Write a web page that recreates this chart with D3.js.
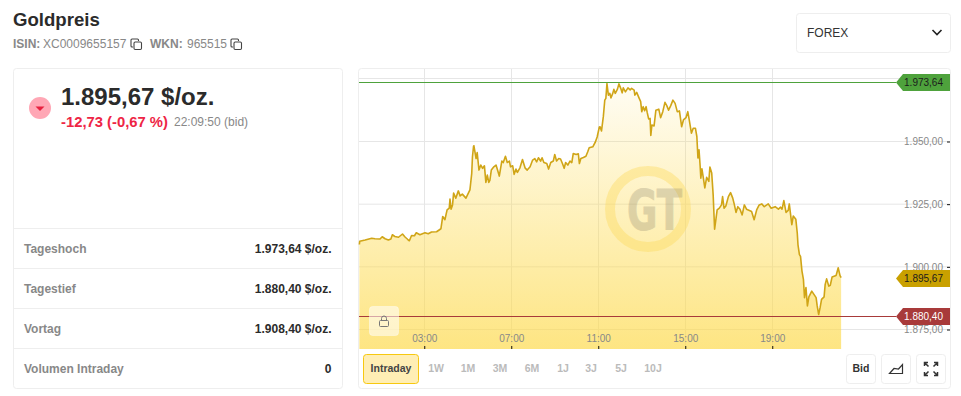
<!DOCTYPE html>
<html>
<head>
<meta charset='utf-8' />
<title>Goldpreis</title>
<script src="https://cdnjs.cloudflare.com/ajax/libs/d3/7.8.5/d3.min.js"></script>
<style>
body { margin:0; padding:0; background:#fff; }
svg { display:block; }
text { font-family:'Liberation Sans', Arial, sans-serif; }
</style>
</head>
<body>
<svg id="page" width="961" height="396"></svg>
<script>
// minutes since midnight
var minutes = [1,2,17,35,44,58,64,72,81,88,92,99,109,120,127,134,139,145,153,158,168,182,191,200,214,226,231,237,243,249,251,254,258,261,267,274,279,285,295,306,311,313,316,
  317,323,326,331,336,341,346,350,354,358,361,365,372,378,383,387,394,398,404,409,415,418,424,428,433,437,444,451,458,464,472,479,485,490,495,501,505,510,518,523,529,536,540,545,551,556,562,566,570,576,582,587,591,599,605,608,612,619,626,631,635,645,652,657,663,
  665,669,674,678,681,684,688,692,695,700,703,707,713,717,722,726,729,735,742,748,752,759,761,766,773,777,780,784,788,792,795,799,803,805,808,814,819,827,832,838,844,849,854,860,866,872,878,884,890,895,902,907,911,917,922,928,932,935,938,941,943,946,950,954,959,965,968,973,
  977,981,985,988,994,1000,1003,1007,1012,1019,1025,1031,1035,1040,1045,1051,1057,1063,1069,1077,1083,1090,1097,1104,1111,1118,1129,1137,1148,1157,1163,1167,1172,1178,1184,1187,1194,1198,1205,1209,1211,1215,1218,1222,1226,1229,1233,1237,1241,1249,1255,1261,1264,1268,1272,1276,1283,1286,1290,1296,1300,1305,1316,1322,1327,1330];
var prices = [1908.9,1910.2,1910.7,1911.4,1911.2,1911.1,1912.0,1911.2,1910.7,1911.1,1912.8,1912.1,1911.8,1913.1,1911.9,1911.0,1910.4,1912.5,1912.4,1913.6,1912.8,1913.6,1913.2,1913.9,1914.0,1915.2,1920.1,1918.8,1922.7,1923.4,1927.0,1923.0,1924.7,1929.4,1927.4,1930.3,1928.3,1929.0,1927.4,1930.7,1937.3,1943.9,1948.1,
  1948.3,1943.2,1945.6,1938.6,1940.6,1939.3,1940.3,1933.7,1936.6,1933.7,1934.5,1938.6,1939.9,1940.6,1938.2,1936.2,1942.2,1941.6,1944.1,1941.6,1942.2,1939.9,1940.3,1936.9,1939.0,1937.7,1939.5,1942.8,1939.5,1938.6,1939.9,1942.6,1943.2,1941.9,1943.5,1942.2,1943.5,1941.6,1941.2,1939.0,1941.6,1942.2,1944.8,1942.2,1943.2,1943.0,1940.9,1939.3,1941.6,1940.6,1942.2,1941.6,1945.2,1944.8,1945.1,1941.2,1943.2,1943.6,1944.1,1945.9,1947.5,1947.9,1949.8,1951.8,1955.8,
  1955.9,1954.2,1959.9,1966.5,1967.2,1973.1,1968.5,1969.2,1967.4,1969.2,1970.8,1969.2,1970.9,1973.0,1971.2,1969.4,1971.4,1969.8,1971.4,1970.6,1971.2,1970.5,1968.5,1969.6,1967.2,1965.9,1961.9,1963.9,1962.3,1963.9,1961.6,1959.0,1959.2,1952.4,1956.6,1956.2,1962.5,1962.9,1959.5,1961.9,1965.6,1964.3,1962.5,1964.3,1966.5,1965.2,1961.9,1962.2,1955.9,1958.6,1959.5,1961.9,1958.6,1953.3,1955.3,1955.3,1952.0,1943.4,1946.7,1940.4,1935.4,1939.1,1935.4,1931.5,1935.7,1934.1,1939.8,1937.4,
  1928.7,1915.0,1919.4,1922.7,1923.4,1924.7,1928.0,1923.4,1924.3,1928.0,1929.6,1927.4,1925.1,1921.7,1924.0,1923.0,1920.7,1924.7,1923.0,1922.5,1922.1,1918.8,1922.7,1924.7,1925.1,1924.0,1925.1,1923.4,1924.0,1923.0,1923.8,1923.0,1926.4,1921.7,1922.5,1925.1,1916.8,1920.3,1919.0,1913.5,1908.8,1904.9,1904.2,1898.3,1895.0,1887.7,1891.7,1884.4,1888.0,1890.3,1889.0,1887.7,1884.4,1881.0,1883.7,1887.0,1888.0,1893.0,1895.2,1892.3,1892.6,1895.9,1896.5,1899.6,1896.5,1895.67];

var priceTicks = [1875, 1900, 1925, 1950];
var timeTicks = [180, 420, 660, 900, 1140];
var timeLabels = ['03:00', '07:00', '11:00', '15:00', '19:00'];
var dayHigh = 1973.64, dayLow = 1880.40, lastPrice = 1895.67;
var statLabels = ['Tageshoch', 'Tagestief', 'Vortag', 'Volumen Intraday'];
var statValues = ['1.973,64 $/oz.', '1.880,40 $/oz.', '1.908,40 $/oz.', '0'];
var rangeLabels = ['1W', '1M', '3M', '6M', '1J', '3J', '5J', '10J'];
var rangeCentres = [436, 468, 500, 532, 563, 591, 621, 653];

var de = d3.formatLocale({decimal: ',', thousands: '.', grouping: [3], currency: ['', '']});
var fmt = de.format(',.2f');

var svg = d3.select('#page');
var defs = svg.append('defs');

var plotL = 359, plotR = 950, plotT = 69, plotB = 349;

function label(g, x, y, txt, size, weight, color, anchor) {
  return g.append('text').attr('x', x).attr('y', y).attr('font-size', size)
    .attr('font-weight', weight).attr('fill', color).attr('text-anchor', anchor || 'start').text(txt);
}
function box(x, y, w, h, stroke, fill) {
  return svg.append('rect').attr('x', x).attr('y', y).attr('width', w).attr('height', h)
    .attr('rx', 3).attr('fill', fill || '#fff').attr('stroke', stroke || '#eeeeee');
}
function copyIcon(x, y) {
  var g = svg.append('g').attr('transform', 'translate(' + x + ',' + y + ')')
    .attr('fill', 'none').attr('stroke', '#444').attr('stroke-width', 1.1);
  g.append('path').attr('d', 'M2.5 8.5H1.5a1 1 0 0 1-1-1V1.5a1 1 0 0 1 1-1H7a1 1 0 0 1 1 1V2.5');
  g.append('rect').attr('x', 3.5).attr('y', 3.5).attr('width', 7.5).attr('height', 7.5).attr('rx', 1.2);
}

// header
label(svg, 13, 26, 'Goldpreis', 18.6, 'bold', '#2b2b2b');
label(svg, 13, 48, 'ISIN:', 12, 'bold', '#888');
label(svg, 43, 48, 'XC0009655157', 12, 'normal', '#888');
copyIcon(130.5, 38.5);
label(svg, 150, 48, 'WKN:', 12, 'bold', '#888');
label(svg, 187, 48, '965515', 12, 'normal', '#888');
copyIcon(230.5, 38.5);

box(796.5, 13.5, 154, 39);
label(svg, 807, 37, 'FOREX', 12, 'normal', '#333');
svg.append('path').attr('d', 'M932.5 30l4.5 4.5 4.5-4.5').attr('fill', 'none').attr('stroke', '#222').attr('stroke-width', 1.6);

// left card
box(13.5, 68.5, 329, 320);
svg.append('circle').attr('cx', 40).attr('cy', 108).attr('r', 11).attr('fill', '#ffa7b5');
svg.append('path').attr('d', 'M35.5 106.5h9l-4.5 4.5z').attr('fill', '#e8203f');
label(svg, 61, 105, '1.895,67 $/oz.', 24, 'bold', '#2b2b2b');
label(svg, 61, 127, '-12,73 (-0,67 %)', 14.8, 'bold', '#ee2545');
label(svg, 174, 126, '22:09:50 (bid)', 12, 'normal', '#888');

var rowY = d3.scaleBand().domain(statLabels).range([228.5, 388.5]);
statLabels.forEach(function(d, i) {
  var y = rowY(d);
  svg.append('line').attr('x1', 14).attr('x2', 342).attr('y1', y).attr('y2', y).attr('stroke', '#eeeeee');
  label(svg, 24, y + 24.5, d, 12, 'bold', '#888');
  label(svg, 331.5, y + 24.5, statValues[i], 12, 'bold', '#2b2b2b', 'end');
});

// chart card
box(358.5, 68.5, 592, 320);

var x = d3.scaleLinear().domain([0, (plotR - plotL) / 0.3625]).range([plotL, plotR]);
var y = d3.scaleLinear().domain([1875, 1950]).range([329.5, 141.5]);

var grad = defs.append('linearGradient').attr('id', 'goldFill').attr('gradientUnits', 'userSpaceOnUse')
  .attr('x1', 0).attr('x2', 0).attr('y1', y(dayHigh)).attr('y2', plotB);
grad.append('stop').attr('offset', 0).attr('stop-color', '#fdda4d').attr('stop-opacity', 0.06);
grad.append('stop').attr('offset', 1).attr('stop-color', '#fdda4d').attr('stop-opacity', 0.7);

// grid
svg.append('g').selectAll('line').data(priceTicks).join('line')
  .attr('x1', plotL).attr('x2', plotR).attr('y1', function(d) { return y(d); }).attr('y2', function(d) { return y(d); })
  .attr('stroke', '#e6e6e6');
svg.append('line').attr('x1', plotL).attr('x2', plotR).attr('y1', 78.5).attr('y2', 78.5).attr('stroke', '#e6e6e6');
svg.append('g').selectAll('line').data(timeTicks).join('line')
  .attr('x1', function(d) { return Math.round(x(d)) + 0.5; }).attr('x2', function(d) { return Math.round(x(d)) + 0.5; })
  .attr('y1', plotT).attr('y2', plotB).attr('stroke', '#e6e6e6');

var series = minutes.map(function(m, i) { return [m, prices[i]]; });

var area = d3.area().x(function(d) { return x(d[0]); }).y0(plotB).y1(function(d) { return y(d[1]); });
svg.append('path').datum(series).attr('d', area).attr('fill', 'url(#goldFill)');

// watermark
var mark = svg.append('g');
mark.append('circle').attr('cx', 648).attr('cy', 209).attr('r', 38).attr('fill', 'none')
  .attr('stroke', '#fdd95a').attr('stroke-opacity', 0.4).attr('stroke-width', 10);
mark.append('text').attr('x', 627).attr('y', 229).attr('font-size', 56).attr('font-weight', 'bold')
  .style('font-family', "'DejaVu Sans'").attr('textLength', 55).attr('lengthAdjust', 'spacingAndGlyphs')
  .attr('fill', '#7d7560').attr('stroke', '#7d7560').attr('stroke-width', 1).attr('opacity', 0.25).text('GT');

var line = d3.line().x(function(d) { return x(d[0]); }).y(function(d) { return y(d[1]); });
svg.append('path').datum(series).attr('d', line).attr('fill', 'none')
  .attr('stroke', '#d0a517').attr('stroke-width', 1.6).attr('stroke-linejoin', 'round');

// axes
var yAxis = d3.axisLeft(y).tickValues(priceTicks).tickSize(3).tickPadding(4).tickFormat(fmt);
var gy = svg.append('g').attr('transform', 'translate(' + plotR + ',0)').call(yAxis);
var xAxis = d3.axisTop(x).tickValues(timeTicks).tickSize(3).tickPadding(4)
  .tickFormat(function(d, i) { return timeLabels[i]; });
var gx = svg.append('g').attr('transform', 'translate(0,' + plotB + ')').call(xAxis);
[gx, gy].forEach(function(g) {
  g.select('.domain').remove();
  g.selectAll('text').attr('font-size', 10).attr('fill', '#888').attr('font-family', null);
  g.selectAll('line').attr('stroke', '#111');
});

// price flags
function flag(value, color, textColor) {
  var py = Math.round(y(value)) + 0.5;
  svg.append('path').attr('d', 'M896 ' + py + 'L903 ' + (py - 8.5) + 'H950V' + (py + 8.5) + 'H903Z').attr('fill', color);
  label(svg, 943, py + 3.5, fmt(value), 10, 'normal', textColor, 'end');
}
[[dayHigh, '#4ea23c'], [dayLow, '#a83a3a']].forEach(function(d) {
  var py = Math.round(y(d[0])) + 0.5;
  svg.append('line').attr('x1', plotL).attr('x2', 896).attr('y1', py).attr('y2', py).attr('stroke', d[1]);
});
flag(dayHigh, '#4ea23c', '#1c1c1c');
flag(lastPrice, '#c9a000', '#1c1c1c');
flag(dayLow, '#a83a3a', '#fff');

// lock button
svg.append('rect').attr('x', 369.5).attr('y', 306.5).attr('width', 29).attr('height', 29).attr('rx', 3)
  .attr('fill', '#fff').attr('fill-opacity', 0.55).attr('stroke', '#fff').attr('stroke-opacity', 0.4);
var lock = svg.append('g').attr('fill', 'none').attr('stroke', '#777').attr('stroke-width', 1);
lock.append('rect').attr('x', 379.5).attr('y', 320.5).attr('width', 9).attr('height', 6).attr('rx', 1);
lock.append('path').attr('d', 'M381.5 320.5v-2a2.5 2.5 0 0 1 5 0v2');

// range buttons
box(363.5, 354.5, 55, 29, '#f7c80f', '#ffeeb4');
label(svg, 391, 372, 'Intraday', 10.5, 'bold', '#444', 'middle');
rangeLabels.forEach(function(d, i) {
  label(svg, rangeCentres[i], 372, d, 10.5, 'bold', '#bbb', 'middle');
});

box(846.5, 354.5, 29, 29);
label(svg, 861, 372, 'Bid', 10.5, 'bold', '#333', 'middle');
box(881.5, 354.5, 29, 29);
svg.append('path').attr('d', 'M889.5 373.5L894 368.5L898.5 369L902.5 364.5V373.5Z').attr('fill', 'none').attr('stroke', '#333').attr('stroke-width', 1.2);
box(916.5, 354.5, 29, 29);
svg.append('path').attr('d', 'M924.5 366v-3.5h3.5M937.5 366v-3.5h-3.5M924.5 372v3.5h3.5M937.5 372v3.5h-3.5M925 363l3.5 3.5M937 363l-3.5 3.5M925 375l3.5-3.5M937 375l-3.5-3.5')
  .attr('fill', 'none').attr('stroke', '#333').attr('stroke-width', 1.5);
</script>
</body>
</html>
